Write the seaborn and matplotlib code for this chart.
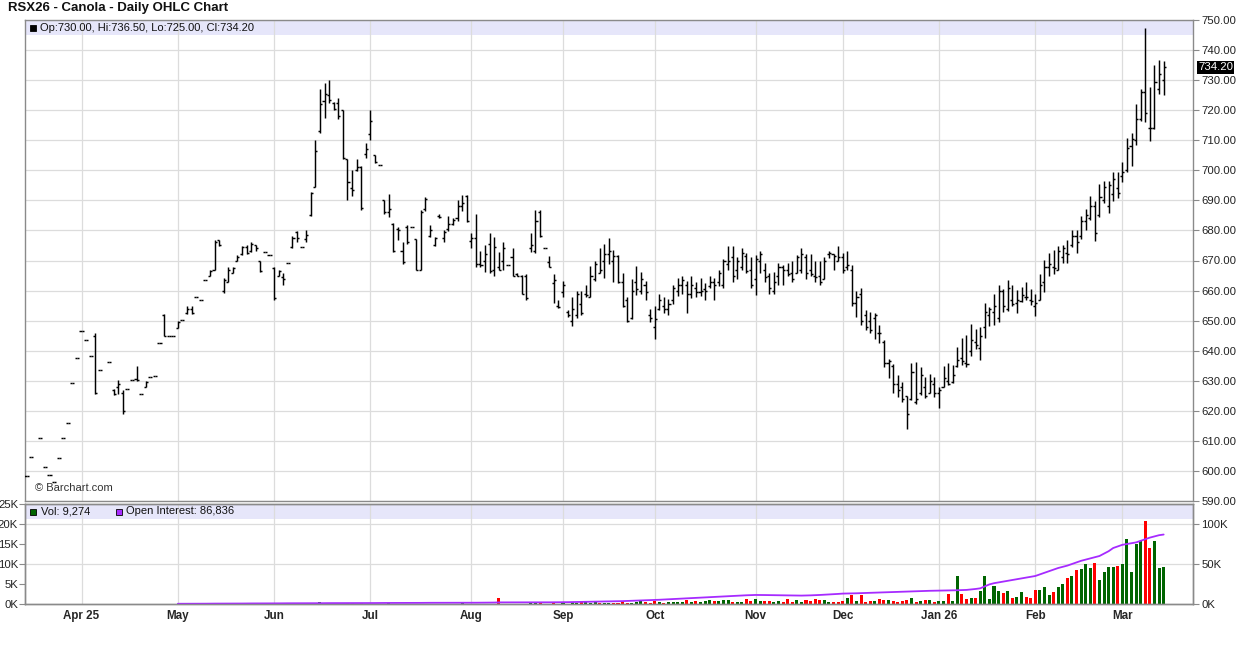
import matplotlib
matplotlib.use("Agg")
import matplotlib.pyplot as plt
import matplotlib.transforms as mtransforms
import numpy as np
import pandas as pd
import seaborn as sns
from matplotlib.patches import Rectangle
from matplotlib.ticker import FormatStrFormatter


# RSX26 (ICE canola, Nov 2026) daily bars
FIRST_DAY = "2025-03-14"
LAST_DAY = "2026-03-13"
HOLIDAYS = [
    "2025-04-18", "2025-05-19", "2025-07-01", "2025-08-04", "2025-09-01", "2025-09-30",
    "2025-10-13", "2025-11-11", "2025-12-25", "2025-12-26", "2026-01-01", "2026-02-16",
]

opens = [
    598.2, 604.7, None, 611.1, 601.3, 598.7, 596.2, 604.4, 611.1, 615.8,  # 0
    629.4, 637.6, 646.4, 643.6, 638.2, 645.0, 633.6, None, 636.4, 627.0,  # 10
    628.0, 626.0, 627.1, 630.2, 630.5, 625.6, 627.8, 631.1, 631.7, 642.4,  # 20
    652.0, 644.8, 644.8, 647.5, 650.2, 652.5, 654.0, 657.8, 656.9, 663.6,  # 30
    665.0, 667.0, 676.7, 660.0, 663.0, 666.0, 670.0, 672.0, 674.5, 673.0,  # 40
    675.0, 669.8, 672.7, 671.9, 667.5, 665.0, 664.5, 669.2, 674.5, 679.5,  # 50
    674.4, 677.0, 685.0, 694.5, 713.0, 723.0, 725.0, 722.5, 722.5, 720.0,  # 60
    703.8, 694.0, 700.0, 701.0, 705.5, 712.0, 705.0, 701.9, 690.0, 686.0,  # 70
    682.0, 680.5, 673.0, 681.0, 681.1, 677.0, 667.0, 687.0, 678.0, 675.0,  # 80
    684.8, 677.5, 680.5, 682.0, 684.0, 688.0, 691.5, 676.5, 677.5, 669.0,  # 90
    670.0, 675.5, 667.0, 668.0, 670.0, 668.6, 671.0, 665.5, 665.0, 665.0,  # 100
    674.0, 673.0, 686.0, 674.1, 669.5, 662.5, 655.0, 659.5, 653.0, 650.0,  # 110
    652.0, 655.5, 659.0, 658.0, 664.0, 666.0, 670.0, 672.0, 670.0, 671.5,  # 120
    663.0, 657.0, 651.0, 663.0, 660.0, 662.0, 652.0, 648.0, 654.0, 655.0,  # 130
    654.0, 657.0, 660.0, 662.0, 662.0, 659.0, 661.0, 659.5, 660.5, 661.5,  # 140
    663.0, 663.0, 662.0, 669.0, 671.0, 667.0, 668.0, 671.5, 667.0, 664.0,  # 150
    670.0, 667.0, 665.0, 660.0, 665.0, 668.0, 667.0, 666.0, 666.0, 667.0,  # 160
    671.0, 667.0, 665.0, 665.0, 664.0, 672.0, 672.0, 670.0, 671.0, 668.0,  # 170
    667.0, 656.0, 659.0, 652.0, 650.0, 651.0, 646.0, 643.0, 636.0, 635.0,  # 180
    629.0, 628.0, 624.9, 624.0, 623.0, 626.0, 628.0, 626.0, 629.0, 626.0,  # 190
    628.0, 630.0, 629.5, 635.0, 637.5, 636.0, 640.0, 643.0, 641.0, 648.0,  # 200
    652.0, 653.0, 651.0, 660.0, 654.0, 657.0, 656.0, 656.5, 658.0, 657.0,  # 210
    655.0, 657.0, 663.0, 668.0, 668.0, 667.0, 671.0, 672.5, 675.0, 678.0,  # 220
    678.0, 683.0, 684.0, 688.0, 685.0, 690.0, 688.0, 692.0, 694.0, 698.0,  # 230
    700.0, 708.0, 710.0, 717.0, 726.0, 714.0, 714.0, 727.0, 730.0,  # 240
]

highs = [
    598.2, 604.7, None, 611.1, 601.3, 598.7, 596.2, 604.4, 611.1, 615.8,
    629.4, 637.6, 646.4, 643.6, 638.2, 645.8, 633.6, None, 636.4, 627.1,
    630.4, 626.9, 627.1, 630.2, 634.9, 625.6, 629.8, 631.1, 631.7, 642.4,
    652.1, 644.8, 644.8, 649.8, 650.2, 654.9, 654.9, 657.8, 656.9, 663.6,
    666.9, 676.7, 676.7, 664.1, 667.8, 667.8, 671.9, 674.9, 675.1, 676.2,
    675.2, 669.8, 672.7, 671.9, 667.8, 666.7, 665.8, 669.2, 678.0, 679.8,
    674.4, 680.0, 692.8, 710.2, 726.9, 728.9, 730.2, 722.8, 724.1, 720.2,
    703.8, 700.2, 703.8, 701.6, 709.1, 720.0, 705.2, 701.9, 690.2, 692.2,
    682.4, 681.1, 676.3, 681.8, 681.1, 677.1, 686.7, 691.1, 681.9, 677.8,
    685.4, 680.2, 684.9, 684.1, 690.0, 691.9, 691.9, 679.1, 685.6, 673.0,
    675.2, 679.3, 677.8, 672.7, 676.0, 668.6, 674.1, 665.8, 665.2, 665.6,
    679.3, 686.7, 686.7, 674.1, 671.6, 665.4, 656.7, 663.3, 653.6, 657.8,
    660.0, 660.0, 661.9, 668.2, 670.0, 674.1, 675.6, 677.5, 673.6, 671.9,
    666.0, 657.8, 663.8, 668.2, 666.3, 663.2, 653.8, 654.9, 658.9, 657.8,
    657.2, 661.9, 664.1, 664.7, 663.3, 664.9, 662.7, 664.1, 662.4, 664.9,
    664.1, 666.9, 670.4, 674.9, 674.7, 671.1, 674.1, 672.4, 671.1, 671.9,
    673.0, 669.1, 665.8, 666.3, 669.1, 668.6, 669.1, 669.7, 671.9, 674.1,
    672.0, 672.2, 669.7, 669.7, 671.1, 673.0, 672.2, 674.9, 672.4, 673.3,
    668.6, 660.0, 660.8, 653.6, 653.0, 652.4, 648.6, 643.6, 637.1, 635.6,
    631.9, 629.7, 624.9, 635.8, 636.3, 634.7, 631.3, 632.2, 631.3, 628.0,
    634.9, 636.0, 635.2, 641.3, 644.1, 645.2, 648.9, 647.1, 647.8, 655.8,
    654.4, 658.9, 661.8, 660.5, 663.6, 661.7, 660.2, 661.3, 662.7, 660.6,
    658.9, 665.6, 670.2, 672.4, 673.6, 674.7, 675.2, 676.7, 680.2, 680.0,
    684.7, 687.2, 691.3, 689.8, 695.3, 696.3, 696.3, 699.3, 699.4, 702.8,
    710.6, 712.4, 722.2, 727.2, 747.3, 727.6, 735.0, 736.7, 736.5,
]

lows = [
    598.2, 604.7, None, 611.1, 601.3, 598.7, 596.2, 604.4, 611.1, 615.8,
    629.4, 637.6, 646.4, 643.6, 638.2, 625.6, 633.6, None, 636.4, 625.3,
    625.6, 619.1, 627.1, 630.2, 630.0, 625.6, 627.8, 631.1, 631.7, 642.4,
    644.8, 644.8, 644.8, 647.4, 650.2, 652.1, 652.1, 657.8, 656.9, 663.6,
    664.7, 666.9, 674.9, 659.1, 662.8, 665.8, 669.7, 671.9, 672.1, 672.7,
    673.0, 666.3, 672.7, 671.9, 656.9, 664.7, 661.9, 669.2, 674.1, 676.2,
    674.4, 676.2, 684.9, 694.4, 712.4, 717.4, 722.4, 720.2, 717.1, 703.8,
    690.0, 691.3, 699.7, 686.9, 704.1, 710.0, 702.4, 701.9, 685.6, 684.4,
    672.7, 676.9, 668.9, 675.5, 681.1, 666.9, 666.9, 686.3, 677.8, 674.7,
    684.3, 676.0, 679.7, 681.7, 683.3, 686.3, 682.7, 674.3, 667.8, 668.0,
    666.3, 666.0, 664.7, 666.7, 666.7, 668.6, 664.7, 664.9, 658.8, 656.9,
    672.7, 672.4, 677.8, 674.1, 667.8, 656.0, 654.1, 658.0, 651.3, 648.2,
    651.0, 651.9, 657.8, 657.8, 663.3, 665.8, 664.1, 669.0, 662.7, 662.4,
    654.4, 649.7, 650.4, 658.6, 658.9, 656.9, 649.7, 643.8, 653.6, 652.7,
    651.9, 655.6, 658.2, 658.9, 652.7, 657.4, 658.0, 658.2, 656.9, 660.8,
    656.7, 661.6, 660.8, 666.9, 663.0, 663.8, 666.9, 665.8, 660.8, 658.6,
    665.8, 663.0, 658.9, 658.9, 661.9, 661.9, 664.7, 662.7, 665.8, 665.8,
    663.8, 664.9, 663.0, 661.7, 663.8, 670.8, 666.7, 669.7, 665.8, 666.9,
    654.7, 651.3, 648.6, 646.9, 645.8, 643.8, 642.7, 634.7, 630.8, 625.8,
    624.7, 623.0, 614.1, 623.6, 622.2, 625.2, 624.1, 625.8, 624.7, 620.8,
    628.0, 628.6, 629.1, 634.7, 635.2, 634.7, 638.2, 640.4, 636.9, 644.1,
    648.2, 648.6, 649.5, 652.8, 653.3, 654.7, 652.4, 656.1, 656.9, 655.3,
    651.7, 656.7, 659.4, 665.0, 665.6, 666.9, 669.1, 669.1, 674.4, 672.4,
    677.0, 680.2, 683.6, 676.4, 684.4, 689.1, 685.8, 689.8, 690.9, 696.1,
    699.4, 701.3, 708.3, 716.4, 716.1, 709.8, 713.9, 725.3, 725.0,
]

closes = [
    598.2, 604.7, None, 611.1, 601.3, 598.7, 596.2, 604.4, 611.1, 615.8,
    629.4, 637.6, 646.4, 643.6, 638.2, 626.0, 633.6, None, 636.4, 625.5,
    629.0, 620.0, 627.1, 630.2, 630.2, 625.6, 629.5, 631.1, 631.7, 642.4,
    644.8, 644.8, 644.8, 649.5, 650.2, 654.0, 652.5, 657.8, 656.9, 663.6,
    666.5, 676.0, 675.0, 663.5, 667.0, 667.5, 671.0, 674.5, 672.5, 675.5,
    674.0, 666.5, 672.7, 671.9, 657.5, 666.5, 664.0, 669.2, 677.5, 677.5,
    674.4, 678.5, 692.5, 706.5, 722.0, 725.5, 723.5, 720.5, 718.0, 704.0,
    696.0, 693.5, 701.0, 687.5, 707.0, 716.5, 702.6, 701.9, 686.0, 687.0,
    673.0, 680.0, 669.5, 676.0, 681.1, 667.0, 686.0, 690.5, 680.0, 677.5,
    684.5, 679.5, 682.0, 683.5, 688.0, 689.0, 683.0, 677.5, 669.0, 668.5,
    672.0, 666.5, 674.5, 667.0, 674.0, 668.6, 665.0, 665.0, 659.0, 657.5,
    675.0, 683.0, 678.0, 674.1, 668.0, 663.5, 654.5, 662.0, 651.8, 654.0,
    659.0, 652.5, 658.5, 665.0, 669.0, 667.0, 672.0, 673.0, 671.5, 663.0,
    655.0, 650.0, 660.0, 660.5, 664.0, 659.5, 651.0, 650.5, 657.0, 654.0,
    655.5, 661.0, 662.0, 663.5, 659.0, 662.0, 659.5, 660.0, 660.0, 663.0,
    662.0, 666.0, 670.0, 670.0, 665.0, 670.0, 672.5, 666.5, 662.0, 670.5,
    672.0, 664.5, 661.0, 663.0, 668.0, 667.0, 665.5, 664.0, 671.0, 672.0,
    666.0, 665.5, 664.5, 663.0, 670.0, 672.5, 671.5, 671.0, 667.0, 668.5,
    656.0, 658.0, 650.0, 648.0, 647.0, 652.0, 646.0, 636.0, 636.5, 629.0,
    627.0, 624.0, 619.0, 633.0, 624.0, 632.0, 625.0, 630.0, 626.0, 627.0,
    631.0, 628.8, 632.0, 637.0, 636.5, 635.5, 643.5, 642.0, 645.0, 653.0,
    654.0, 655.0, 660.0, 655.0, 661.0, 655.5, 657.0, 658.5, 658.0, 656.5,
    656.0, 662.0, 668.0, 669.0, 667.5, 673.0, 674.0, 672.0, 678.0, 676.0,
    683.0, 685.0, 688.0, 679.0, 691.0, 694.5, 695.0, 697.0, 692.5, 699.5,
    707.5, 710.5, 717.0, 726.0, 719.0, 714.0, 729.5, 732.0, 734.2,
]

# daily volume, thousands of contracts
volume_k = [
    0, 0, 0, 0, 0, 0, 0, 0, 0, 0,
    0, 0, 0, 0, 0, 0, 0, 0, 0, 0,
    0, 0, 0, 0, 0, 0, 0, 0, 0, 0,
    0, 0, 0, 0, 0, 0, 0, 0, 0, 0,
    0, 0, 0, 0, 0, 0.2, 0, 0, 0.2, 0,
    0, 0, 0, 0, 0, 0, 0, 0, 0, 0,
    0, 0, 0.2, 0.3, 0.5, 0.3, 0.2, 0.2, 0, 0,
    0.2, 0.2, 0, 0.2, 0, 0, 0, 0, 0, 0.2,
    0, 0, 0, 0, 0, 0, 0, 0, 0, 0,
    0, 0, 0, 0, 0, 0.2, 0, 0, 0, 0,
    0, 0, 0, 1.6, 0, 0, 0, 0, 0, 0,
    0.3, 0.3, 0.3, 0, 0, 0.2, 0, 0.3, 0.1, 0.6,
    0.2, 0.4, 0.5, 0.3, 0.4, 0.3, 0.3, 0.3, 0.3, 0.3,
    0.4, 0.3, 0.3, 0.5, 0.7, 0.4, 0.3, 0.8, 0.4, 0.3,
    0.4, 0.4, 0.5, 0.5, 0.9, 0.5, 0.7, 0.6, 0.7, 0.9,
    0.8, 0.8, 1.0, 0.9, 0.6, 0.6, 0.6, 1.2, 0.8, 1.2,
    0.8, 0.8, 0.8, 0.6, 0.8, 0.4, 1.3, 0.6, 1.0, 0.6,
    1.0, 0.8, 1.2, 0.9, 1.0, 0.6, 0.6, 0.6, 0.8, 1.5,
    2.3, 0.8, 2.3, 0.6, 0.8, 0.8, 1.3, 0.9, 1.0, 0.7,
    0.6, 0.7, 1.0, 1.6, 0.6, 0.8, 0.9, 1.0, 0.5, 0.8,
    0.8, 2.5, 0.8, 7.0, 2.5, 1.25, 1.5, 1.5, 3.2, 7.0,
    1.25, 4.5, 3.3, 2.8, 3.3, 1.6, 1.75, 3.1, 1.75, 1.5,
    3.5, 3.5, 4.35, 2.35, 3.1, 4.35, 4.9, 6.6, 6.9, 8.5,
    8.8, 10.0, 9.1, 10.3, 6.0, 7.9, 9.3, 9.3, 9.5, 10.0,
    16.3, 8.0, 15.0, 15.8, 20.8, 14.0, 15.8, 9.0, 9.274,
]

# open interest, thousands of contracts (no OI before May)
open_interest_k = [None] * 33 + [
    0.3, 0.3, 0.3, 0.4, 0.4, 0.4, 0.4, 0.5, 0.5, 0.5, 0.5, 0.6, 0.6, 0.6, 0.6, 0.7, 0.7, 0.7, 0.7, 0.8, 0.8,
    0.8, 0.8, 0.9, 0.9, 0.9, 0.9, 1.0, 1.0, 1.0, 1.0, 1.0, 1.1, 1.1, 1.1, 1.1, 1.1, 1.2, 1.2, 1.2, 1.2, 1.2,
    1.2, 1.2, 1.3, 1.3, 1.3, 1.3, 1.3, 1.4, 1.4, 1.4, 1.4, 1.4, 1.5, 1.5, 1.5, 1.5, 1.5, 1.5, 1.6, 1.6, 1.6, 1.6,
    1.6, 1.6, 1.7, 1.7, 1.7, 1.8, 2.0, 2.0, 2.0, 2.0, 2.0, 2.0, 2.0, 2.1, 2.1, 2.1, 2.1, 2.1, 2.2, 2.2,
    2.2, 2.3, 2.4, 2.5, 2.6, 2.7, 2.8, 2.9, 2.9, 3.0, 3.1, 3.2, 3.4, 3.6, 3.8, 4.0, 4.2, 4.4, 4.6, 4.8,
    5.0, 5.3, 5.6, 5.9, 6.2, 6.5, 6.8, 7.1, 7.4, 7.7, 8.0, 8.3, 8.6, 8.9, 9.2, 9.5, 9.8, 10.1, 10.4, 10.7, 10.9, 11.1,
    11.3, 11.3, 11.2, 11.1, 11.0, 10.9, 10.8, 10.7, 10.6, 10.5, 10.5, 10.6, 10.8, 11.0, 11.3, 11.6, 12.0, 12.3, 12.6,
    13.0, 13.1, 13.3, 13.4, 13.6, 13.8, 14.0, 14.2, 14.4, 14.6, 14.8, 15.0, 15.2, 15.4, 15.6, 15.8, 16.0, 16.2, 16.4, 16.5, 16.6,
    16.7, 16.8, 16.9, 17.0, 17.2, 17.4, 17.6, 18.2, 18.8, 19.6, 22.0, 24.5, 26.0, 27.0, 28.0, 29.0, 30.0, 31.0, 32.0, 33.0, 34.0,
    35.0, 37.0, 39.0, 41.0, 43.0, 45.0, 46.5, 48.0, 50.0, 52.0, 54.0, 55.5, 57.0, 58.5, 60.0, 63.0, 66.0, 70.0, 72.0,
    74.0, 75.0, 76.0, 77.0, 79.0, 81.0, 83.0, 84.5, 86.0, 86.836,
]

GREEN = "#006400"
RED = "#ff0000"
PURPLE = "#a62bff"
BAND = "#e6e6fa"
GRID = "#dcdcdc"
FRAME = "#8a8a8a"
W, H = 1236, 645


def px_box(left, top, right, bottom):
    return [left / W, 1 - bottom / H, (right - left) / W, (bottom - top) / H]


def month_ticks(days):
    s = pd.Series(days)
    per = s.dt.to_period("M")
    first = (per != per.shift()).to_numpy()
    first[0] = False
    idx = np.flatnonzero(first)
    labels = []
    for i in idx:
        d = days[i]
        if not labels or d.month == 1:
            labels.append(d.strftime("%b %y"))
        else:
            labels.append(d.strftime("%b"))
    return idx, labels


def main():
    days = pd.bdate_range(FIRST_DAY, LAST_DAY, freq="C", holidays=HOLIDAYS)
    n = len(days)
    assert n == len(opens) == len(highs) == len(lows) == len(closes) == len(volume_k) == len(open_interest_k)

    sns.set_theme(style="white")
    plt.rcParams["font.family"] = ["Liberation Sans", "DejaVu Sans"]

    x = np.arange(n)
    o, h, l, c = (np.array(v, dtype=float) for v in (opens, highs, lows, closes))
    vol = np.array(volume_k, dtype=float)
    oi = np.array(open_interest_k, dtype=float)
    cs = pd.Series(c).ffill()
    up = (cs.diff().fillna(0) >= 0).to_numpy()
    vol_colors = np.where(up, GREEN, RED)

    fig = plt.figure(figsize=(W / 100, H / 100), dpi=100)
    fig.patch.set_facecolor("white")
    ax = fig.add_axes(px_box(25, 20, 1193, 501))
    axv = fig.add_axes(px_box(25, 504, 1193, 604), sharex=ax)

    # price panel
    ok = ~np.isnan(c)
    ax.vlines(x[ok], l[ok], h[ok], color="black", lw=1.05, zorder=3)
    ax.hlines(o[ok], x[ok] - 0.45, x[ok], color="black", lw=1.05, zorder=3)
    ax.hlines(c[ok], x[ok], x[ok] + 0.45, color="black", lw=1.05, zorder=3)

    ax.set_xlim(-0.33, 254.4)
    ax.set_ylim(590, 750)
    ax.set_yticks(np.arange(590, 751, 10))
    ax.yaxis.tick_right()
    ax.yaxis.set_major_formatter(FormatStrFormatter("%.2f"))
    ax.tick_params(axis="y", length=4, width=0.8, color=FRAME, pad=2, labelsize=8.2, labelcolor="#222222")
    ax.tick_params(axis="x", length=0, labelbottom=False)
    ax.set_axisbelow(True)
    ax.grid(True, color=GRID, lw=0.9)
    ax.add_patch(Rectangle((0, 1 - 15 / 481), 1, 15 / 481, transform=ax.transAxes,
                           facecolor=BAND, edgecolor="none", zorder=0))

    # volume + open interest panel
    axv.bar(x, vol, width=0.66, color=vol_colors, edgecolor="none", linewidth=0, zorder=2)
    axv.set_ylim(0, 25)
    axv.set_yticks(np.arange(0, 26, 5))
    axv.set_yticklabels([f"{v}K" for v in range(0, 26, 5)])
    axv.tick_params(axis="y", length=4, width=0.8, color=FRAME, pad=1, labelsize=8.2, labelcolor="#222222")
    axv.set_axisbelow(True)
    axv.grid(True, axis="x", color=GRID, lw=0.9)
    axv.add_patch(Rectangle((0, 0.85), 1, 0.15, transform=axv.transAxes,
                            facecolor=BAND, edgecolor="none", zorder=0))

    axo = axv.twinx()
    sns.lineplot(x=x, y=oi, ax=axo, color=PURPLE, lw=1.3, estimator=None, legend=False)
    axo.set_ylim(0, 125)
    oi_ticks = [0, 50, 100]
    axo.set_yticks(oi_ticks)
    axo.set_yticklabels([f"{v}K" for v in oi_ticks])
    axo.set_ylabel("")
    axo.tick_params(axis="y", length=4, width=0.8, color=FRAME, pad=2, labelsize=8.2, labelcolor="#222222")
    for t in oi_ticks[1:]:
        axv.axhline(t * 25 / 125, color=GRID, lw=0.9, zorder=0.5)

    idx, labels = month_ticks(days)
    axv.set_xticks(idx)
    axv.set_xticklabels(labels, fontweight="bold", fontsize=8.4)
    axv.tick_params(axis="x", length=0, pad=4.5)
    axv.set_xlabel("")

    for a in (ax, axv, axo):
        for sp in a.spines.values():
            sp.set_color(FRAME)
            sp.set_linewidth(1.0)

    # texts
    fig.text(8 / W, 1 - 8.5 / H, "RSX26 - Canola - Daily OHLC Chart", fontsize=9.5,
             fontweight="bold", va="center", ha="left", color="#111111")

    fig.add_artist(Rectangle((30 / W, 1 - 31 / H), 6 / W, 6 / H, transform=fig.transFigure,
                             facecolor="black", edgecolor="black", lw=0.6))
    fig.text(40 / W, 1 - 28 / H,
             f"Op:{o[-1]:.2f}, Hi:{h[-1]:.2f}, Lo:{l[-1]:.2f}, Cl:{c[-1]:.2f}",
             fontsize=8.0, va="center", ha="left", color="#111111")
    fig.text(35 / W, 1 - 488 / H, "\u00a9 Barchart.com", fontsize=8.0, va="center", ha="left",
             color="#333333")

    fig.add_artist(Rectangle((30 / W, 1 - 514.5 / H), 6 / W, 6 / H, transform=fig.transFigure,
                             facecolor=GREEN, edgecolor="black", lw=0.6))
    fig.text(41 / W, 1 - 511.5 / H, f"Vol: {volume_k[-1] * 1000:,.0f}", fontsize=8.0,
             va="center", ha="left", color="#111111")
    fig.add_artist(Rectangle((116 / W, 1 - 514.5 / H), 6 / W, 6 / H, transform=fig.transFigure,
                             facecolor=PURPLE, edgecolor="black", lw=0.6))
    fig.text(126 / W, 1 - 511.5 / H, f"Open Interest: {open_interest_k[-1] * 1000:,.0f}", fontsize=8.0,
             va="center", ha="left", color="#111111")

    trans = mtransforms.blended_transform_factory(ax.transAxes, ax.transData)
    ax.text(1 + 5 / 1168, c[-1], f"{c[-1]:.2f}", transform=trans, fontsize=8.2, color="white",
            va="center", ha="left", zorder=5,
            bbox=dict(facecolor="black", edgecolor="none", pad=0.8), clip_on=False)

    fig.savefig("out.png", dpi=100)
    plt.close(fig)


if __name__ == "__main__":
    main()
